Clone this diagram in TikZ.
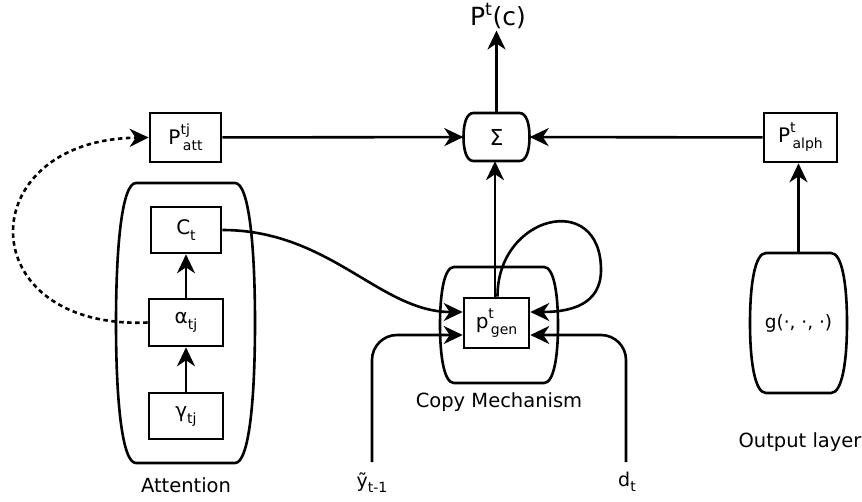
\documentclass[tikz,border=0pt]{standalone}
\usepackage{fontspec}
\setmainfont{DejaVu Sans}
\usetikzlibrary{arrows.meta,calc}
\newcommand\supx[1]{\raisebox{0.5em}{\fontsize{14}{15}\selectfont #1}}
\newcommand\subx[1]{\raisebox{-0.3em}{\fontsize{14}{15}\selectfont #1}}
\newcommand\supsub[2]{\rlap{\supx{#1}}\kern0.12em\subx{#2}}
\newcommand\barrel[5]{% cx cy hw hh d
 \draw[ln] ({#1-#3+#5},{#2-#4}) -- ({#1+#3-#5},{#2-#4})
  .. controls ({#1+#3-0.3*#5},{#2-#4}) and ({#1+#3},{#2-0.55*#4}) .. ({#1+#3},{#2})
  .. controls ({#1+#3},{#2+0.55*#4}) and ({#1+#3-0.3*#5},{#2+#4}) .. ({#1+#3-#5},{#2+#4})
  -- ({#1-#3+#5},{#2+#4})
  .. controls ({#1-#3+0.3*#5},{#2+#4}) and ({#1-#3},{#2+0.55*#4}) .. ({#1-#3},{#2})
  .. controls ({#1-#3},{#2-0.55*#4}) and ({#1-#3+0.3*#5},{#2-#4}) .. cycle;}
\begin{document}
\begin{tikzpicture}[x=1pt,y=-1pt,
  ln/.style={line width=2.6pt},
  arr/.style={ln,-{Stealth[length=19pt,width=18pt,inset=6pt]}},
  box/.style={draw,ln,rectangle,inner sep=0pt,font=\fontsize{20}{22}\selectfont},
  lab/.style={font=\fontsize{19.5}{23}\selectfont,anchor=base,inner sep=0pt},
  cont/.style={inner sep=0pt,font=\fontsize{18.5}{22}\selectfont}]
\useasboundingbox (0,0) rectangle (862,501);

% top output
\node[font=\fontsize{25}{28}\selectfont,anchor=base,inner sep=2pt] (ptc) at (498,25) {P\textsuperscript{t}(c)};

% sum
\node[cont,minimum width=66pt,minimum height=48pt,font=\fontsize{22}{24}\selectfont] (sigma) at (496.5,137) {Σ};
\barrel{496.5}{137}{33}{24}{10}

% top boxes
\node[box,minimum width=71pt,minimum height=49pt] (patt) at (185.5,137.5) {P\supsub{tj}{att}};
\node[box,minimum width=73pt,minimum height=49pt] (palph) at (800.5,137.5) {P\supsub{t}{alph}};

% attention
\node[cont,minimum width=139pt,minimum height=280pt] (attc) at (185.5,323) {};
\barrel{185.5}{323}{69.5}{140}{20}
\node[box,minimum width=70pt,minimum height=46pt] (ct) at (186,230) {C\subx{t}};
\node[box,minimum width=74pt,minimum height=47pt] (alpha) at (186,322.5) {α\subx{tj}};
\node[box,minimum width=74pt,minimum height=46pt] (gamma) at (186,416) {γ\subx{tj}};
\node[lab] (attl) at (186,492) {Attention};

% copy mechanism
\node[cont,minimum width=118pt,minimum height=116pt] (copyc) at (499,325) {};
\barrel{499}{325}{59}{58}{14}
\node[box,minimum width=65pt,minimum height=50pt] (pgen) at (496.5,323) {p\supsub{t}{gen}};
\node[lab] (copyl) at (499,407) {Copy Mechanism};

% output layer
\node[cont,minimum width=97pt,minimum height=140pt] (out) at (798.5,323) {g(·, ·, ·)};
\barrel{798.5}{323}{48.5}{70}{16}
\node[lab] (outl) at (800,447) {Output layer};

% inputs
\coordinate (ys) at (372,462);
\coordinate (ds) at (626,462);
\node[lab,font=\fontsize{19}{22}\selectfont] (ylab) at (372,487) {ỹ\subx{t-1}};
\node[lab,font=\fontsize{19}{22}\selectfont] (dlab) at (627,486) {d\subx{t}};

% connectors
\draw[arr] (patt) -- (sigma);
\draw[arr] (palph) -- (sigma);
\draw[arr] (sigma.north) -- (sigma.north |- ptc.south);
\draw[arr] ([xshift=-1.5pt]pgen.north) -- ([xshift=-1.5pt]sigma.south);
\draw[arr] (out.north) -- (out.north |- palph.south);
\draw[arr] (gamma) -- (alpha);
\draw[arr] (alpha) -- (ct);
\draw[arr,dash pattern=on 4.5pt off 3.5pt] (alpha.west) .. controls (-30,330) and (-30,140) .. (patt.west);
\draw[arr] (ct.east) .. controls (330,230) and (380,312) .. ([yshift=11pt]pgen.west);
\draw[arr] ([xshift=1pt]pgen.north) .. controls (497,215) and (601,190) .. (601,270) .. controls (601,305) and (570,312) .. ([yshift=11pt]pgen.east);
\draw[arr,rounded corners=25pt] (ys) |- ([yshift=-12pt]pgen.west);
\draw[arr,rounded corners=25pt] (ds) |- ([yshift=-12pt]pgen.east);
\end{tikzpicture}
\end{document}
